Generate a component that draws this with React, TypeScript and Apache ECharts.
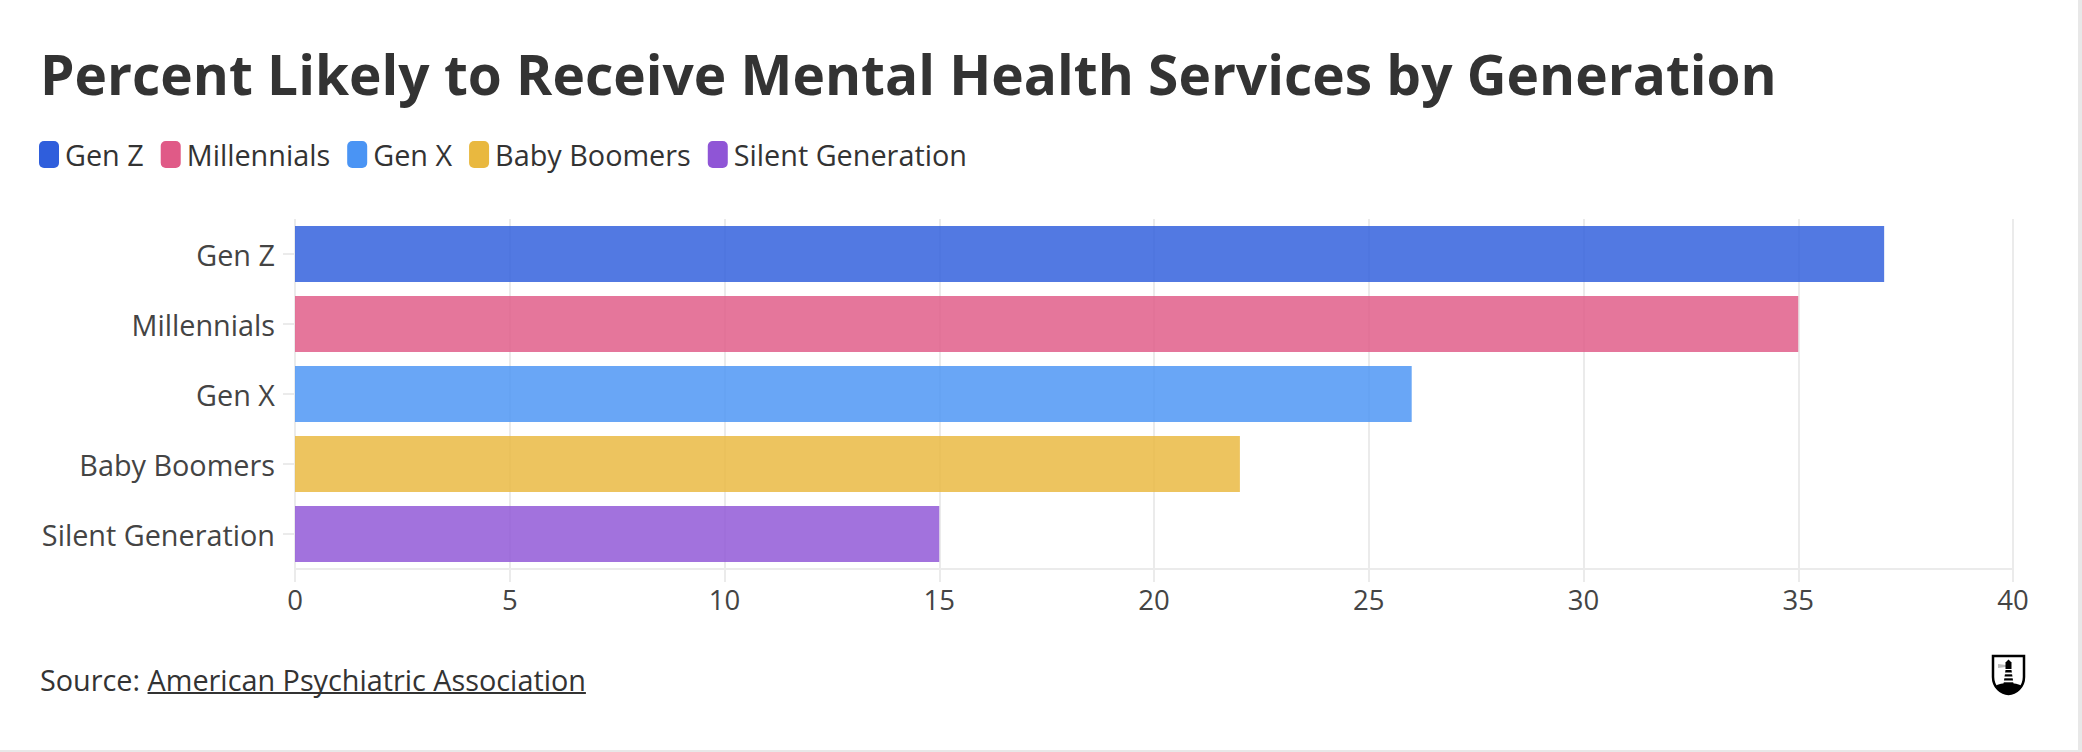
import React, { useEffect, useRef } from "react";
import * as echarts from "echarts";

const categories = ["Gen Z", "Millennials", "Gen X", "Baby Boomers", "Silent Generation"];
const values = [37, 35, 26, 22, 15];
const colors = ["#2f5edc", "#e05a87", "#4a94f4", "#e9b83f", "#8f55d6"];
const xMin = 0;
const xMax = 40;
const xInterval = 5;

const titleText = "Percent Likely to Receive Mental Health Services by Generation";
const sourceLabel = "Source: ";
const sourceLink = "American Psychiatric Association";

const FONT = "'Open Sans', Roboto, sans-serif";
const FS = 28.8;

echarts.graphic.registerShape(
  "shieldOutline",
  echarts.graphic.extendPath("M1,1 L32,1 L32,22 C32,32 24,39 16.5,39 C9,39 1,32 1,22 Z", {})
);
echarts.graphic.registerShape(
  "shieldBase",
  echarts.graphic.extendPath("M3,31 C9,27 24,27 30,31 C28,36 22,39 16.5,39 C11,39 5,36 3,31 Z", {})
);

function measure(text: string, font: string): number {
  const c = document.createElement("canvas").getContext("2d");
  if (!c) return text.length * 14;
  c.font = font;
  return c.measureText(text).width;
}

export default function App() {
  const ref = useRef<HTMLDivElement>(null);
  useEffect(() => {
    if (!ref.current) return;
    const chart = echarts.init(ref.current, undefined, { renderer: "svg" });
    const srcX = 40;
    const linkX = srcX + measure(sourceLabel, FS + "px 'Open Sans'");
    const linkW = measure(sourceLink, FS + "px 'Open Sans'");
    const lx = 1992;
    const ly = 655;
    const option: any = {
      animation: false,
      backgroundColor: "#ffffff",
      textStyle: { fontFamily: FONT },
      legend: {
        left: 39,
        top: 140,
        padding: 0,
        itemWidth: 20,
        itemHeight: 27,
        itemGap: 17,
        icon: "roundRect",
        textStyle: { fontSize: FS, color: "#333333", fontFamily: FONT, padding: [0, 0, 0, 1] },
        data: categories,
      },
      grid: { left: 295, right: 69, top: 219, bottom: 183 },
      xAxis: {
        type: "value",
        min: xMin,
        max: xMax,
        interval: xInterval,
        axisLine: { show: true, lineStyle: { color: "#ebebeb", width: 2 } },
        axisTick: { show: true, length: 13, lineStyle: { color: "#ebebeb", width: 2 } },
        splitLine: { show: true, lineStyle: { color: "#ebebeb", width: 2 } },
        axisLabel: { fontSize: 27.5, color: "#444444", margin: 16, fontFamily: FONT },
      },
      yAxis: {
        type: "category",
        inverse: true,
        data: categories,
        axisLine: { show: false },
        axisTick: { show: true, length: 12, alignWithLabel: true, lineStyle: { color: "#ebebeb", width: 2 } },
        axisLabel: { fontSize: FS, color: "#444444", margin: 20, fontFamily: FONT },
        splitLine: { show: false },
      },
      series: categories.map((name, i) => ({
        type: "bar",
        name,
        stack: "all",
        barWidth: "80%",
        itemStyle: { color: colors[i] },
        data: categories.map((_, j) =>
          j === i ? { value: values[i], itemStyle: { opacity: 0.83 } } : "-"
        ),
      })),
      graphic: [
        {
          type: "text",
          left: 40,
          top: 46,
          style: {
            text: titleText,
            fontSize: 55,
            fontWeight: "bold",
            fontFamily: FONT,
            fill: "#333333",
          },
        },
        {
          type: "text",
          x: srcX,
          y: 679,
          style: {
            text: sourceLabel,
            fontSize: FS,
            fontFamily: FONT,
            fill: "#333333",
            verticalAlign: "middle",
          },
        },
        {
          type: "text",
          x: linkX,
          y: 679,
          style: {
            text: sourceLink,
            fontSize: FS,
            fontFamily: FONT,
            fill: "#333333",
            verticalAlign: "middle",
          },
        },
        {
          type: "rect",
          shape: { x: linkX, y: 692, width: linkW, height: 2 },
          style: { fill: "#333333" },
        },
        { type: "rect", shape: { x: 2078, y: 0, width: 4, height: 752 }, style: { fill: "#e8e8e8" } },
        { type: "rect", shape: { x: 0, y: 750, width: 2082, height: 2 }, style: { fill: "#e8e8e8" } },
        {
          type: "group",
          x: lx,
          y: ly,
          children: [
            { type: "shieldBase", style: { fill: "#000000" } },
            { type: "shieldOutline", style: { fill: "none", stroke: "#000000", lineWidth: 2.5 } },
            { type: "polygon", shape: { points: [[6, 9], [14, 10], [14, 12], [6, 13]] }, style: { fill: "#bbbbbb" } },
            { type: "rect", shape: { x: 13.5, y: 8, width: 6, height: 6 }, style: { fill: "#000000" } },
            { type: "polygon", shape: { points: [[13, 8], [16.5, 4.5], [20, 8]] }, style: { fill: "#000000" } },
            { type: "polygon", shape: { points: [[13.5, 15], [19.5, 15], [21.5, 29], [11.5, 29]] }, style: { fill: "#000000" } },
            { type: "rect", shape: { x: 11, y: 17.5, width: 11, height: 1.8 }, style: { fill: "#ffffff" } },
            { type: "rect", shape: { x: 11, y: 21.5, width: 11, height: 1.8 }, style: { fill: "#ffffff" } },
            { type: "rect", shape: { x: 11, y: 25.5, width: 11, height: 1.8 }, style: { fill: "#ffffff" } },
          ],
        },
      ],
    };
    chart.setOption(option);
    return () => chart.dispose();
  }, []);
  return (
    <div
      ref={ref}
      style={{ position: "absolute", left: 0, top: 0, width: 2082, height: 752, background: "#ffffff" }}
    />
  );
}
